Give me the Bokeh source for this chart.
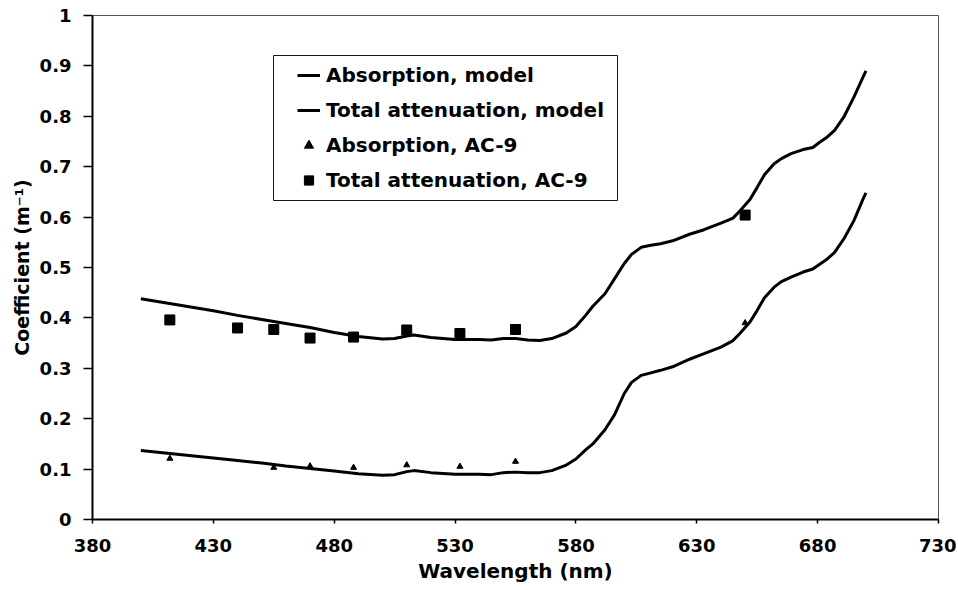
from bokeh.plotting import figure
from bokeh.models import (Range1d, FixedTicker, CustomJSTickFormatter, Legend,
                          LegendItem, BoxAnnotation)
from bokeh.embed import file_html
from bokeh.resources import INLINE

# ---------------- data ----------------
wavelength_model = [400, 410, 420, 430, 440, 450, 460, 470, 480, 490, 500, 505,
                    510, 513, 520, 530, 540, 545, 550, 555, 560, 565, 570, 576,
                    580, 584, 587, 592, 596, 600, 603, 607, 611, 615, 620, 627,
                    633, 640, 645, 648, 652, 655, 658, 662, 665, 669, 674, 678,
                    681, 684, 687, 691, 695, 699, 700]
absorption_model = [0.137, 0.132, 0.127, 0.122, 0.117, 0.112, 0.106, 0.101,
                    0.096, 0.091, 0.088, 0.089, 0.095, 0.097, 0.093, 0.090,
                    0.090, 0.089, 0.093, 0.094, 0.093, 0.093, 0.097, 0.108,
                    0.120, 0.138, 0.150, 0.178, 0.208, 0.250, 0.272, 0.286,
                    0.291, 0.296, 0.303, 0.318, 0.329, 0.342, 0.355, 0.370,
                    0.392, 0.415, 0.440, 0.461, 0.472, 0.481, 0.491, 0.497,
                    0.507, 0.517, 0.530, 0.558, 0.593, 0.638, 0.648]
attenuation_model = [0.438, 0.430, 0.422, 0.414, 0.405, 0.397, 0.389, 0.381,
                     0.371, 0.363, 0.358, 0.359, 0.364, 0.366, 0.361, 0.357,
                     0.357, 0.356, 0.359, 0.359, 0.356, 0.355, 0.359, 0.370,
                     0.383, 0.405, 0.423, 0.448, 0.478, 0.508, 0.526, 0.540,
                     0.544, 0.547, 0.553, 0.566, 0.575, 0.588, 0.598, 0.613,
                     0.635, 0.659, 0.684, 0.706, 0.716, 0.726, 0.734, 0.738,
                     0.749, 0.759, 0.772, 0.800, 0.838, 0.880, 0.890]

wavelength_ac9_abs = [412, 455, 470, 488, 510, 532, 555, 650]
absorption_ac9 = [0.121, 0.103, 0.106, 0.103, 0.108, 0.105, 0.115, 0.390]

wavelength_ac9_att = [412, 440, 455, 470, 488, 510, 532, 555, 650]
attenuation_ac9 = [0.396, 0.380, 0.377, 0.360, 0.362, 0.376, 0.369, 0.377, 0.604]

x_ticks = [380, 430, 480, 530, 580, 630, 680, 730]
y_ticks = [0, 0.1, 0.2, 0.3, 0.4, 0.5, 0.6, 0.7, 0.8, 0.9, 1.0]

legend_labels = ["Absorption, model", "Total attenuation, model",
                 "Absorption, AC-9", "Total attenuation, AC-9"]

# ---------------- figure ----------------
FONT = "DejaVu Sans"
X0, X1 = 380, 730
Y0, Y1 = 0, 1
W, H = 956, 588
FRAME_L, FRAME_R, FRAME_T, FRAME_B = 92, 938, 15, 519   # pixels of plot frame

p = figure(width=W, height=H, x_range=Range1d(X0, X1), y_range=Range1d(Y0, Y1),
           output_backend="svg", toolbar_location=None,
           min_border_left=FRAME_L, min_border_right=W - FRAME_R,
           min_border_top=FRAME_T, min_border_bottom=H - FRAME_B)
p.grid.visible = False
p.background_fill_color = "white"
p.border_fill_color = "white"
p.outline_line_color = "#555555"
p.outline_line_width = 1

r_abs = p.line(wavelength_model, absorption_model, line_color="black", line_width=3)
r_att = p.line(wavelength_model, attenuation_model, line_color="black", line_width=3)
r_abs_pts = p.scatter(wavelength_ac9_abs, absorption_ac9, marker="triangle",
                      size=6, fill_color="black", line_color="black")
r_att_pts = p.scatter(wavelength_ac9_att, attenuation_ac9, marker="square",
                      size=10, fill_color="black", line_color="black")

# axes
for ax in (p.xaxis[0], p.yaxis[0]):
    ax.axis_line_color = "black"
    ax.axis_line_width = 2
    ax.major_tick_line_color = "black"
    ax.major_tick_line_width = 1.5
    ax.major_tick_in = 0
    ax.minor_tick_line_color = None
    ax.major_label_text_font = FONT
    ax.major_label_text_font_style = "bold"
    ax.major_label_text_font_size = "18px"
    ax.major_label_text_color = "black"
    ax.axis_label_text_font = FONT
    ax.axis_label_text_font_style = "bold"
    ax.axis_label_text_color = "black"

p.xaxis.ticker = FixedTicker(ticks=x_ticks)
p.xaxis.major_tick_out = 4
p.xaxis.major_label_standoff = 15
p.xaxis.axis_label = "Wavelength (nm)"
p.xaxis.axis_label_text_font_size = "20px"
p.xaxis.axis_label_standoff = 4

p.yaxis.ticker = FixedTicker(ticks=y_ticks)
p.yaxis.formatter = CustomJSTickFormatter(
    code="return tick.toFixed(1).replace(/\\.0$/, '');")
p.yaxis.major_tick_out = 9
p.yaxis.major_label_standoff = 12
p.yaxis.axis_label = "Coefficient (m\u207b\u00b9)"
p.yaxis.axis_label_text_font_size = "19px"
p.yaxis.axis_label_standoff = 4

# ---------------- legend ----------------


def px_to_x(px):
    return X0 + (px - FRAME_L) * (X1 - X0) / (FRAME_R - FRAME_L)


def px_to_y(py):
    return Y0 + (FRAME_B - py) * (Y1 - Y0) / (FRAME_B - FRAME_T)


box_left, box_right, box_top, box_bottom = 273, 617, 55, 200
p.add_layout(BoxAnnotation(left=px_to_x(box_left), right=px_to_x(box_right),
                           top=px_to_y(box_top), bottom=px_to_y(box_bottom),
                           fill_alpha=0, line_color="black", line_width=1,
                           line_alpha=0.9))

legend = Legend(items=[LegendItem(label=legend_labels[0], renderers=[r_abs]),
                       LegendItem(label=legend_labels[1], renderers=[r_att]),
                       LegendItem(label=legend_labels[2], renderers=[r_abs_pts]),
                       LegendItem(label=legend_labels[3], renderers=[r_att_pts])],
                location=(292 - FRAME_L, FRAME_B - 200),
                padding=5, spacing=5, label_height=30, glyph_height=30,
                glyph_width=23, label_standoff=6, margin=0,
                border_line_alpha=0, background_fill_alpha=0,
                label_text_font=FONT, label_text_font_style="bold",
                label_text_font_size="20px", label_text_color="black")
p.add_layout(legend)

open("out.html", "w").write(file_html(p, INLINE))
